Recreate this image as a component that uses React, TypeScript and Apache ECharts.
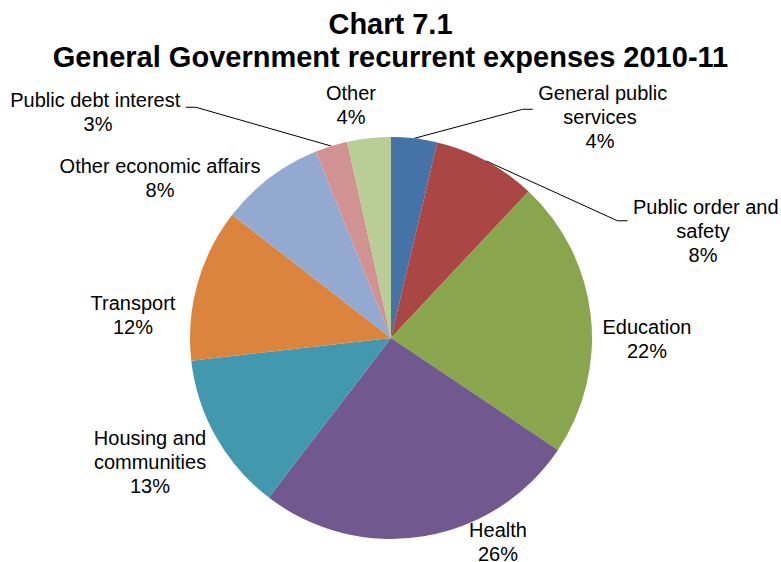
import React, { useEffect, useRef } from "react";
import * as echarts from "echarts";

const titleLines = ["Chart 7.1", "General Government recurrent expenses 2010-11"];

const categories = [
  "General public\nservices",
  "Public order and\nsafety",
  "Education",
  "Health",
  "Housing and\ncommunities",
  "Transport",
  "Other economic affairs",
  "Public debt interest",
  "Other",
];

const shares = [3.7, 8.3, 22.4, 26.0, 12.8, 12.3, 8.4, 2.6, 3.5];

const colors = [
  "#4572A7",
  "#AA4643",
  "#89A54E",
  "#71588F",
  "#4198AF",
  "#DB843D",
  "#93A9CF",
  "#D19392",
  "#B9CD96",
];

// label layout (positions, not data)
const labelX = [600, 703, 647, 498, 150, 133, 160, 98, 351];
const labelY = [104, 213, 339, 542, 462, 315, 178, 105, 105];
const leaderSide = ["left", "left", "", "", "", "", "", "right", ""];
const leaderGap = [26, 36, 0, 0, 0, 0, 0, 14, 0];

export default function App() {
  const ref = useRef<HTMLDivElement>(null);
  useEffect(() => {
    if (!ref.current) return;
    const chart = echarts.init(ref.current, null, { renderer: "svg" });
    const font = "'Liberation Sans', Arial, sans-serif";
    const rich: Record<string, any> = {
      t: { fontFamily: font, fontSize: 20, lineHeight: 24, color: "#000" },
    };
    leaderGap.forEach((g) => {
      if (g) rich["g" + g] = { fontFamily: font, fontSize: 1, lineHeight: g };
    });
    chart.setOption({
      animation: false,
      backgroundColor: "#ffffff",
      textStyle: { fontFamily: font },
      title: {
        text: titleLines.join("\n"),
        left: "center",
        top: 7,
        padding: 0,
        textStyle: {
          fontFamily: font,
          fontWeight: "bold",
          fontSize: 29,
          lineHeight: 33,
          color: "#000",
        },
      },
      series: [
        {
          type: "pie",
          center: [391, 338],
          radius: 201,
          startAngle: 90,
          clockwise: true,
          avoidLabelOverlap: false,
          label: {
            show: true,
            position: "outside",
            fontFamily: font,
            fontSize: 20,
            color: "#000",
            align: "center",
            rich,
            formatter: (p: any) => {
              const i = p.dataIndex;
              const lines = [...String(p.name).split("\n"), `${Math.round(p.percent)}%`];
              if (leaderSide[i] === "left") lines[0] = "\u00a0" + lines[0];
              if (leaderSide[i] === "right") lines[0] = lines[0] + "\u00a0";
              let s = lines.map((l) => `{t|${l}}`).join("\n");
              if (leaderGap[i]) s = `{g${leaderGap[i]}|\u00a0}\n` + s;
              return s;
            },
          },
          labelLine: {
            show: true,
            length: 10,
            length2: 10,
            smooth: false,
            lineStyle: { color: "#000", width: 1 },
          },
          labelLayout: (params: any) => ({
            x: labelX[params.dataIndex],
            y: labelY[params.dataIndex],
            align: "center",
            verticalAlign: "middle",
            hideOverlap: false,
          }),
          itemStyle: { borderWidth: 0 },
          emphasis: { disabled: true },
          data: categories.map((name, i) => ({
            name,
            value: shares[i],
            itemStyle: { color: colors[i] },
            labelLine: { show: leaderSide[i] !== "" },
          })),
        },
      ],
    });
    return () => chart.dispose();
  }, []);
  return (
    <div
      ref={ref}
      style={{ position: "absolute", left: 0, top: 0, width: 781, height: 562 }}
    />
  );
}
